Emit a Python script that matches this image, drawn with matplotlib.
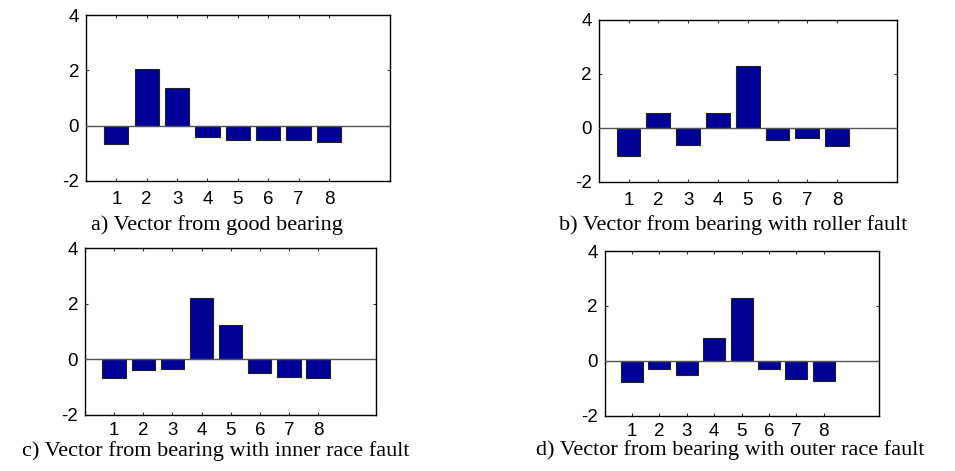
import matplotlib
matplotlib.use("Agg")
import matplotlib.pyplot as plt

plt.rcParams["axes.unicode_minus"] = False

# Composantes des vecteurs
composantes = [1, 2, 3, 4, 5, 6, 7, 8]
bon_roulement = [-0.65, 2.06, 1.36, -0.42, -0.53, -0.53, -0.53, -0.60]
defaut_rouleau = [-1.04, 0.54, -0.62, 0.54, 2.29, -0.45, -0.37, -0.68]
defaut_bague_int = [-0.67, -0.40, -0.35, 2.20, 1.24, -0.50, -0.62, -0.67]
defaut_bague_ext = [-0.76, -0.28, -0.50, 0.82, 2.30, -0.28, -0.67, -0.72]

legendes = [
    "a) Vector from good bearing",
    "b) Vector from bearing with roller fault",
    "c) Vector from bearing with inner race fault",
    "d) Vector from bearing with outer race fault",
]

# position des axes [gauche, bas, largeur, hauteur], point de base de la légende, pad des ticks x
positions = [
    ([0.090, 0.616, 0.318, 0.352], (0.227, 0.511), 7),
    ([0.627, 0.614, 0.312, 0.344], (0.768, 0.511), 7),
    ([0.089, 0.119, 0.305, 0.354], (0.226, 0.031), 5),
    ([0.633, 0.117, 0.287, 0.350], (0.765, 0.034), 5),
]

fig = plt.figure(figsize=(9.55, 4.71), dpi=100)

for valeurs, legende, (rect, base, pad_x) in zip(
        [bon_roulement, defaut_rouleau, defaut_bague_int, defaut_bague_ext],
        legendes, positions):
    ax = fig.add_axes(rect)
    ax.bar(composantes, valeurs, width=0.8, color="#000096",
           edgecolor="#222222", linewidth=0.8, zorder=2)
    ax.axhline(0, color="#555555", linewidth=1.0, zorder=3)
    ax.set_xlim(0, 10)
    ax.set_ylim(-2, 4)
    ax.set_xticks(composantes)
    ax.set_yticks([-2, 0, 2, 4])
    ax.tick_params(direction="in", length=2.5, width=0.8, color="#333333",
                   top=True, right=True, labelsize=13.5)
    ax.tick_params(axis="x", pad=pad_x)
    ax.tick_params(axis="y", pad=5)
    for s in ax.spines.values():
        s.set_linewidth(1.0)
    for lab in ax.get_xticklabels() + ax.get_yticklabels():
        lab.set_fontfamily("Liberation Sans")
    fig.text(base[0], base[1], legende, ha="center", va="baseline",
             fontsize=16, family="Liberation Serif")

fig.savefig("out.png", dpi=100)
